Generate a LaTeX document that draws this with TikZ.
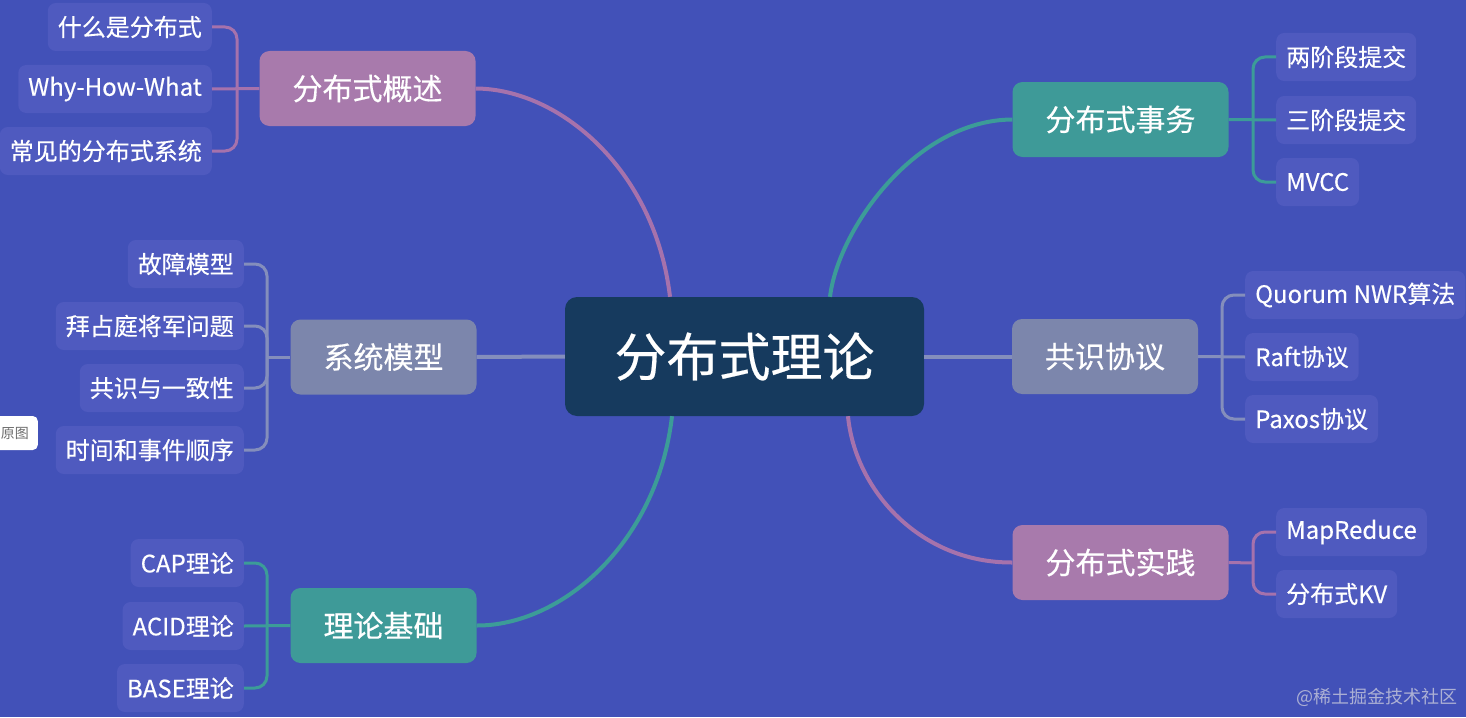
\documentclass[tikz,border=0pt]{standalone}
\usepackage{fontspec}
\newfontfamily\cjk[FakeBold=0.35]{Noto Sans CJK SC}
\newfontfamily\cjkplain{Noto Sans CJK SC}
\definecolor{bgc}{RGB}{66,81,184}
\definecolor{leafc}{RGB}{79,90,191}
\definecolor{pinkc}{RGB}{168,122,172}
\definecolor{grayc}{RGB}{124,134,172}
\definecolor{tealc}{RGB}{62,154,152}
\definecolor{centerc}{RGB}{22,58,94}
\definecolor{pinkl}{RGB}{166,114,172}
\definecolor{grayl}{RGB}{132,142,188}
\definecolor{teall}{RGB}{60,156,152}
\definecolor{markc}{RGB}{172,176,212}
\definecolor{ovtext}{RGB}{110,110,110}
\begin{document}
\begin{tikzpicture}[x=1pt,y=-1pt,
  leaf/.style={fill=leafc, rounded corners=8pt, text=white, font=\cjk\fontsize{24}{28}\selectfont, inner xsep=10pt, inner ysep=0pt, minimum height=48pt},
  topic/.style={rounded corners=10pt, text=white, font=\cjk\fontsize{30}{36}\selectfont, inner xsep=33pt, inner ysep=0pt, minimum height=75pt},
  curve/.style={line width=4pt},
  br/.style={line width=3pt, rounded corners=12pt}]
\useasboundingbox (0,0) rectangle (1466,717);
\fill[bgc] (0,0) rectangle (1466,717);

% central node
\node[fill=centerc, rounded corners=12pt, text=white, font=\cjk\fontsize{52}{60}\selectfont, minimum width=359pt, minimum height=119pt, inner sep=0pt] (c) at (744.5,356.5) {分布式理论};

% topic nodes
\node[topic, fill=pinkc] (o1) at (367.5,88.5) {分布式概述};
\node[topic, fill=grayc] (o2) at (383.5,357) {系统模型};
\node[topic, fill=tealc] (o3) at (383.5,625.5) {理论基础};
\node[topic, fill=tealc] (o4) at (1120.5,119.5) {分布式事务};
\node[topic, fill=grayc] (o5) at (1105,356.5) {共识协议};
\node[topic, fill=pinkc] (o6) at (1120.5,562.5) {分布式实践};

% leaves
\node[leaf, anchor=east] (a1) at (212,27) {什么是分布式};
\node[leaf, anchor=east] (a2) at (212,89) {Why-How-What};
\node[leaf, anchor=east] (a3) at (212,151) {常见的分布式系统};

\node[leaf, anchor=east] (b1) at (244,264) {故障模型};
\node[leaf, anchor=east] (b2) at (244,326) {拜占庭将军问题};
\node[leaf, anchor=east] (b3) at (244,388) {共识与一致性};
\node[leaf, anchor=east] (b4) at (244,450) {时间和事件顺序};

\node[leaf, anchor=east] (d1) at (244,563) {CAP理论};
\node[leaf, anchor=east] (d2) at (244,626) {ACID理论};
\node[leaf, anchor=east] (d3) at (244,688) {BASE理论};

\node[leaf, anchor=west] (e1) at (1276,57) {两阶段提交};
\node[leaf, anchor=west] (e2) at (1276,120) {三阶段提交};
\node[leaf, anchor=west] (e3) at (1276,182) {MVCC};

\node[leaf, anchor=west] (f1) at (1245,295) {Quorum NWR算法};
\node[leaf, anchor=west] (f2) at (1245,357) {Raft协议};
\node[leaf, anchor=west] (f3) at (1245,419) {Paxos协议};

\node[leaf, anchor=west] (g1) at (1276,532) {MapReduce};
\node[leaf, anchor=west] (g2) at (1276,594) {分布式KV};

% main connectors
\draw[curve, pinkl] (o1.east) .. controls (560,89) and (655,170) .. ([xshift=-74.5pt]c.north);
\draw[curve, teall] (o3.east) .. controls (560,626) and (657,545) .. ([xshift=-72.5pt]c.south);
\draw[curve, teall] ([xshift=85.5pt]c.north) .. controls (838,230) and (915,120) .. (o4.west);
\draw[curve, pinkl] ([xshift=103.5pt]c.south) .. controls (855,490) and (920,563) .. (o6.west);
\draw[curve, grayl] (o2.east) -- (c.west);
\draw[curve, grayl] (c.east) -- (o5.west);

% brackets
\coordinate (j1) at (237,89);
\coordinate (j2) at (267,357);
\coordinate (j3) at (267,626);
\coordinate (j4) at (1253,120);
\coordinate (j5) at (1222,357);
\coordinate (j6) at (1253,563);

\draw[br, pinkl] (a1.east) -| (j1) |- (a3.east);
\draw[br, pinkl] (a2.east) -- (o1.west);

\draw[br, grayl] (b1.east) -| (j2) |- (b4.east);
\draw[br, grayl] (b2.east) -| (j2);
\draw[br, grayl] (b3.east) -| (j2);
\draw[br, grayl] (j2) -- (o2.west);

\draw[br, teall] (d1.east) -| (j3) |- (d3.east);
\draw[br, teall] (d2.east) -- (o3.west);

\draw[br, teall] (e1.west) -| (j4) |- (e3.west);
\draw[br, teall] (o4.east) -- (e2.west);

\draw[br, grayl] (f1.west) -| (j5) |- (f3.west);
\draw[br, grayl] (o5.east) -- (f2.west);

\draw[br, pinkl] (g1.west) -| (j6) |- (g2.west);
\draw[br, pinkl] (o6.east) -- (j6);

% small overlay box and site mark
\node[fill=white, rounded corners=5pt, text=ovtext, font=\cjkplain\fontsize{14}{16}\selectfont, minimum height=34pt, inner xsep=9pt, anchor=east] (ov) at (38,433) {原图};
\node[text=markc, font=\cjkplain\fontsize{18}{20}\selectfont, anchor=east, inner sep=0pt] (wm) at (1458,697) {@稀土掘金技术社区};
\end{tikzpicture}
\end{document}
